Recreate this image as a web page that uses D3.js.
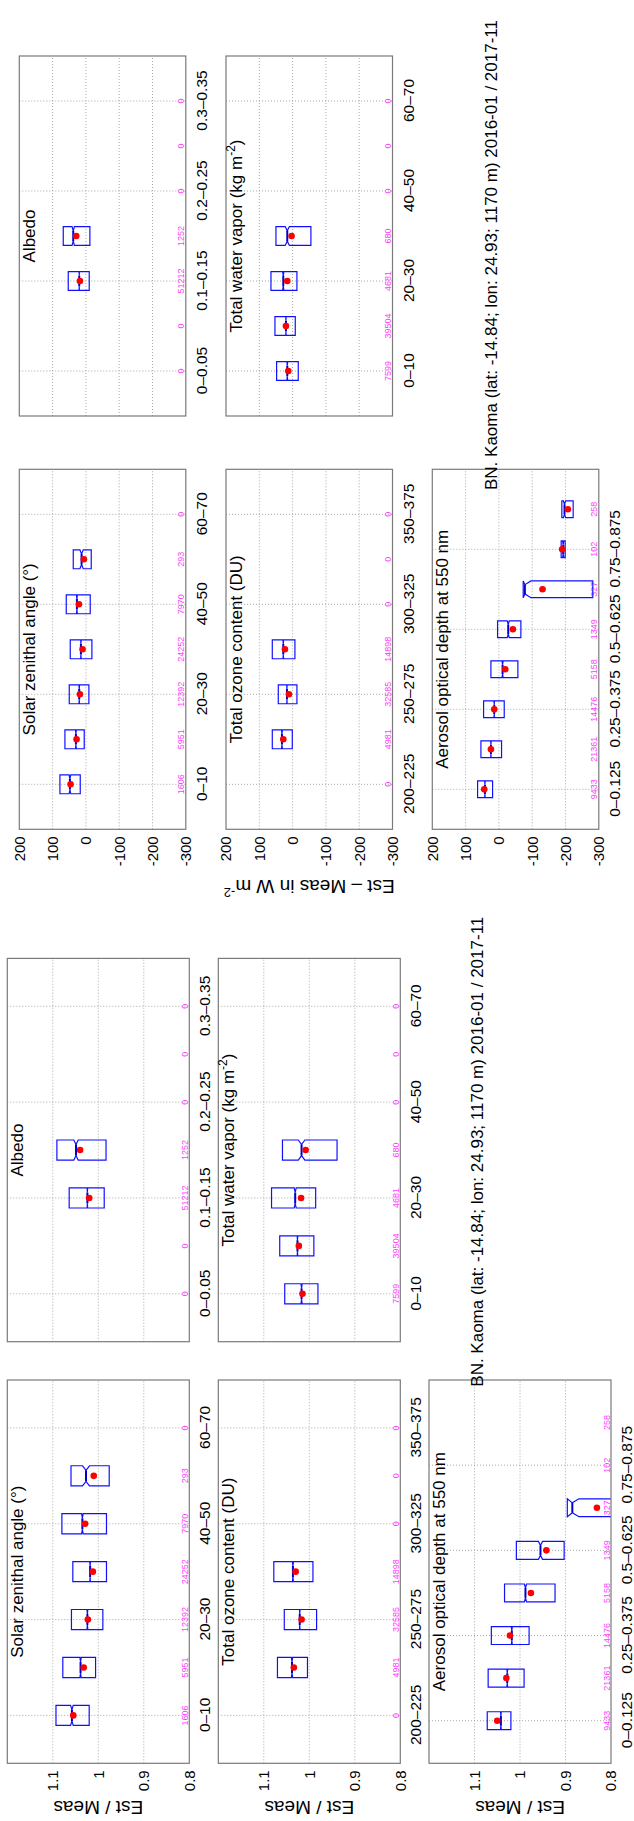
<!DOCTYPE html>
<html><head><meta charset="utf-8">
<script src="https://cdn.jsdelivr.net/npm/d3@7"></script>
<style>body{margin:0;background:#fff}</style>
</head><body>
<script>
// ---------- categories ----------
const szaCats = ['0–10','10–20','20–30','30–40','40–50','50–60','60–70'];
const albedoCats = ['0–0.05','0.05–0.1','0.1–0.15','0.15–0.2','0.2–0.25','0.25–0.3','0.3–0.35'];
const ozoneCats = ['200–225','225–250','250–275','275–300','300–325','325–350','350–375'];
const wvCats = ['0–10','10–20','20–30','30–40','40–50','50–60','60–70'];
const aodCats = ['0–0.125','0.125–0.25','0.25–0.375','0.375–0.5','0.5–0.625','0.625–0.75','0.75–0.875','0.875–1'];

// ---------- counts ----------
const szaCounts = [1606,5951,12392,24252,7970,293,0];
const albedoCounts = [0,0,51212,1252,0,0,0];
const ozoneCounts = [0,4981,32585,14898,0,0,0];
const wvCounts = [7599,39504,4681,680,0,0,0];
const aodCounts = [9433,21361,14476,5158,1349,327,102,258];

// ---------- Est - Meas (W m-2) ----------
const szaDiffQ1   = [17,5,-9,-18,-13,-16,null];
const szaDiffMed  = [48,30,20,15,27,13,null];
const szaDiffQ3   = [78,63,50,47,59,38,null];
const szaDiffMean = [46,28,18,10,21,6,null];

const albedoDiffQ1   = [null,null,-10,-12,null,null,null];
const albedoDiffMed  = [null,null,20,38,null,null,null];
const albedoDiffQ3   = [null,null,53,68,null,null,null];
const albedoDiffMean = [null,null,18,29,null,null,null];

const ozoneDiffQ1   = [null,1,-13,-7,null,null,null];
const ozoneDiffMed  = [null,32,17,28,null,null,null];
const ozoneDiffQ3   = [null,61,43,61,null,null,null];
const ozoneDiffMean = [null,28,11,23,null,null,null];

const wvDiffQ1   = [-17,-8,-13,-55,null,null,null];
const wvDiffMed  = [16,20,28,16,null,null,null];
const wvDiffQ3   = [48,53,65,50,null,null,null];
const wvDiffMean = [13,20,16,3,null,null,null];

const aodDiffQ1   = [19,-8,-16,-57,-66,-282,-199,-223];
const aodDiffMed  = [42,24,14,-11,-28,-78,-193,-197];
const aodDiffQ3   = [64,54,46,24,4,-73,-187,-189];
const aodDiffMean = [44,24,14,-19,-42,-131,-190,-207];

// ---------- Est / Meas ----------
const szaRatioQ1   = [1.020,1.006,0.990,0.982,0.982,0.976,null];
const szaRatioMed  = [1.058,1.039,1.024,1.018,1.035,1.027,null];
const szaRatioQ3   = [1.093,1.078,1.059,1.056,1.080,1.060,null];
const szaRatioMean = [1.055,1.032,1.023,1.012,1.029,1.010,null];

const albedoRatioQ1   = [null,null,0.987,0.983,null,null,null];
const albedoRatioMed  = [null,null,1.024,1.049,null,null,null];
const albedoRatioQ3   = [null,null,1.064,1.091,null,null,null];
const albedoRatioMean = [null,null,1.020,1.040,null,null,null];

const ozoneRatioQ1   = [null,1.004,0.984,0.992,null,null,null];
const ozoneRatioMed  = [null,1.038,1.021,1.036,null,null,null];
const ozoneRatioQ3   = [null,1.070,1.055,1.078,null,null,null];
const ozoneRatioMean = [null,1.034,1.017,1.030,null,null,null];

const wvRatioQ1   = [0.981,0.990,0.986,0.939,null,null,null];
const wvRatioMed  = [1.017,1.026,1.031,1.017,null,null,null];
const wvRatioQ3   = [1.054,1.065,1.083,1.059,null,null,null];
const wvRatioMean = [1.015,1.023,1.018,1.008,null,null,null];

const aodRatioQ1   = [1.020,0.991,0.980,0.923,0.903,0.730,null,null];
const aodRatioMed  = [1.042,1.028,1.018,0.988,0.955,0.885,null,null];
const aodRatioQ3   = [1.072,1.070,1.063,1.034,1.008,0.896,null,null];
const aodRatioMean = [1.050,1.030,1.022,0.976,0.942,0.831,null,null];

// ---------- tick values ----------
const diffTicks = [-300,-200,-100,0,100,200];
const ratioTicks = [0.8,0.9,1,1.1];

const titleText = 'BN. Kaoma (lat: -14.84; lon: 24.93; 1170 m) 2016-01 / 2017-11';

// ---------- drawing ----------
const FONT = "'Liberation Sans', Arial, Helvetica, sans-serif";
const W = 1821;
const svg = d3.select('body').append('svg')
  .attr('width', 634).attr('height', 1821).style('display','block');
const root = svg.append('g').attr('transform', `translate(0,${W}) rotate(-90)`);
const defs = root.append('defs');
let clipId = 0;

function mk(title, cats, counts, q1, med, q3, mean) { return {title, cats, counts, q1, med, q3, mean}; }

const groups = [
  { x0: 991.7, col2: 1405, w: 360, rows: [19.3, 226, 432.3], h: 166.5,
    domain: [-300, 200], ticks: diffTicks, ylabelRows: [1], ylabelX: 941,
    ylabel: 'Est – Meas in W m', ylabelSup: '-2', titleX: 1331, titleY: 497,
    panels: [
      mk('Solar zenithal angle (°)', szaCats, szaCounts, szaDiffQ1, szaDiffMed, szaDiffQ3, szaDiffMean),
      mk('Albedo', albedoCats, albedoCounts, albedoDiffQ1, albedoDiffMed, albedoDiffQ3, albedoDiffMean),
      mk('Total ozone content (DU)', ozoneCats, ozoneCounts, ozoneDiffQ1, ozoneDiffMed, ozoneDiffQ3, ozoneDiffMean),
      mk('WV', wvCats, wvCounts, wvDiffQ1, wvDiffMed, wvDiffQ3, wvDiffMean),
      mk('Aerosol optical depth at 550 nm', aodCats, aodCounts, aodDiffQ1, aodDiffMed, aodDiffQ3, aodDiffMean),
      null ] },
  { x0: 57.7, col2: 479.3, w: 383.3, rows: [7.3, 218.3, 429], h: 182,
    domain: [0.8, 1.2], ticks: ratioTicks, ylabelRows: [0,1,2], ylabelX: 20,
    ylabel: 'Est / Meas', ylabelSup: null, titleX: 434.3, titleY: 483,
    panels: [
      mk('Solar zenithal angle (°)', szaCats, szaCounts, szaRatioQ1, szaRatioMed, szaRatioQ3, szaRatioMean),
      mk('Albedo', albedoCats, albedoCounts, albedoRatioQ1, albedoRatioMed, albedoRatioQ3, albedoRatioMean),
      mk('Total ozone content (DU)', ozoneCats, ozoneCounts, ozoneRatioQ1, ozoneRatioMed, ozoneRatioQ3, ozoneRatioMean),
      mk('WV', wvCats, wvCounts, wvRatioQ1, wvRatioMed, wvRatioQ3, wvRatioMean),
      mk('Aerosol optical depth at 550 nm', aodCats, aodCounts, aodRatioQ1, aodRatioMed, aodRatioQ3, aodRatioMean),
      null ] }
];

function drawPanel(p, left, top, grp, r, c) {
  const n = p.cats.length, w = grp.w, h = grp.h;
  const x = d3.scaleLinear().domain([0, n + 1]).range([left, left + w]);
  const y = d3.scaleLinear().domain(grp.domain).range([top + h, top]);
  const g = root.append('g');
  const id = 'clip' + (clipId++);
  defs.append('clipPath').attr('id', id).append('rect')
    .attr('x', left).attr('y', top).attr('width', w).attr('height', h);

  const labelPos = d3.range(1, n + 1, 2);
  const gridVals = grp.ticks.filter(v => v > grp.domain[0] && v < grp.domain[1]);
  const gridStyle = s => s.attr('stroke', '#a8a8a8').attr('stroke-width', 1).attr('stroke-dasharray', '1,2');
  g.selectAll('line.gx').data(labelPos).join('line').attr('class','gx')
    .attr('x1', d => x(d)).attr('x2', d => x(d)).attr('y1', top).attr('y2', top + h).call(gridStyle);
  g.selectAll('line.gy').data(gridVals).join('line').attr('class','gy')
    .attr('x1', left).attr('x2', left + w).attr('y1', d => y(d)).attr('y2', d => y(d)).call(gridStyle);

  // counts
  g.selectAll('text.cnt').data(p.counts).join('text').attr('class','cnt')
    .attr('x', (d, i) => x(i + 1)).attr('y', top + h - 1.5)
    .attr('text-anchor', 'middle').attr('font-family', FONT).attr('font-size', 9)
    .attr('fill', '#ff3cff').text(d => String(d));

  // boxes
  const idx = d3.range(n).filter(i => p.q1[i] != null);
  const bg = g.append('g').attr('clip-path', `url(#${id})`);
  const hw = (x(1) - x(0)) * 0.21;
  const nf = 0.55;
  bg.selectAll('path.box').data(idx).join('path').attr('class','box')
    .attr('d', i => {
      const cx = x(i + 1), q1 = p.q1[i], q3 = p.q3[i], md = p.med[i];
      const nt = 1.57 * (q3 - q1) / Math.sqrt(p.counts[i]);
      const nlo = Math.max(q1, md - nt), nhi = Math.min(q3, md + nt);
      const pts = [[cx - hw, y(q1)], [cx - hw, y(nlo)], [cx - hw * nf, y(md)], [cx - hw, y(nhi)], [cx - hw, y(q3)],
                   [cx + hw, y(q3)], [cx + hw, y(nhi)], [cx + hw * nf, y(md)], [cx + hw, y(nlo)], [cx + hw, y(q1)]];
      return d3.line()(pts) + 'Z';
    })
    .attr('fill', 'none').attr('stroke', '#1010ff').attr('stroke-width', 1.2);
  bg.selectAll('line.med').data(idx).join('line').attr('class','med')
    .attr('x1', i => x(i + 1) - hw * nf).attr('x2', i => x(i + 1) + hw * nf)
    .attr('y1', i => y(p.med[i])).attr('y2', i => y(p.med[i]))
    .attr('stroke', '#0000c8').attr('stroke-width', 2);
  bg.selectAll('circle.mean').data(idx).join('circle').attr('class','mean')
    .attr('cx', i => x(i + 1)).attr('cy', i => y(p.mean[i])).attr('r', 3.3)
    .attr('fill', '#ff0000');

  // frame
  g.append('rect').attr('x', left).attr('y', top).attr('width', w).attr('height', h)
    .attr('fill', 'none').attr('stroke', '#7a7a7a').attr('stroke-width', 1.2);

  // category axis
  const ax = g.append('g').attr('transform', `translate(0,${top + h})`)
    .call(d3.axisBottom(x).tickValues(labelPos).tickSize(0).tickPadding(10).tickFormat(d => p.cats[d - 1]));
  ax.select('.domain').remove();
  ax.selectAll('text').attr('font-family', FONT).attr('font-size', 15.5).attr('fill', '#000');

  // value axis
  if (c === 0) {
    const ay = g.append('g').attr('transform', `translate(${left},0)`)
      .call(d3.axisLeft(y).tickValues(grp.ticks).tickSize(0).tickPadding(7).tickFormat(d => String(d)));
    ay.select('.domain').remove();
    ay.selectAll('text').attr('font-family', FONT).attr('font-size', 15).attr('fill', '#000');
    if (grp.ylabelRows.includes(r)) {
      const t = g.append('text')
        .attr('transform', `translate(${grp.ylabelX},${top + h / 2}) rotate(-90)`)
        .attr('text-anchor', 'middle').attr('font-family', FONT).attr('font-size', 19).attr('fill', '#000');
      t.append('tspan').text(grp.ylabel);
      if (grp.ylabelSup) {
        t.append('tspan').attr('dy', -8).attr('font-size', 13).text(grp.ylabelSup);
      }
    }
  }

  // panel title
  const tt = g.append('text').attr('x', left + w / 2).attr('y', top + 16)
    .attr('text-anchor', 'middle').attr('font-family', FONT).attr('font-size', 17).attr('fill', '#000');
  if (p.title === 'WV') {
    tt.append('tspan').text('Total water vapor (kg m');
    tt.append('tspan').attr('dy', -7).attr('font-size', 12).text('-2');
    tt.append('tspan').attr('dy', 7).text(')');
  } else {
    tt.text(p.title);
  }
}

groups.forEach(grp => {
  grp.panels.forEach((p, k) => {
    if (!p) return;
    const r = Math.floor(k / 2), c = k % 2;
    drawPanel(p, c === 0 ? grp.x0 : grp.col2, grp.rows[r], grp, r, c);
  });
  root.append('text').attr('x', grp.titleX).attr('y', grp.titleY)
    .attr('font-family', FONT).attr('font-size', 17).attr('fill', '#000').text(titleText);
});
</script>
</body></html>
